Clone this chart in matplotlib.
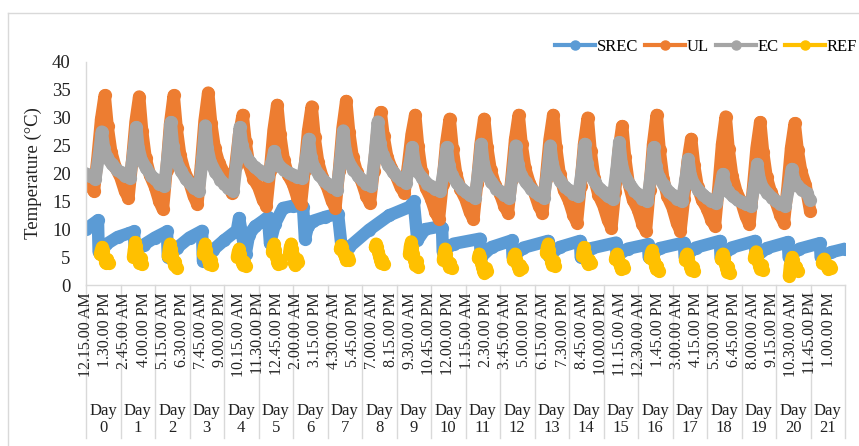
import numpy as np
import matplotlib
matplotlib.use("Agg")
from matplotlib import pyplot as plt
from matplotlib import transforms
from matplotlib.lines import Line2D

plt.rcParams["font.family"] = ["Liberation Serif", "DejaVu Serif"]

# Series colours (Excel office theme)
colours = {"SREC": "#5B9BD5", "UL": "#ED7D31", "EC": "#A5A5A5", "REF": "#FFC000"}

# UL: values per day (day 0 - 20) at these hours of the day
ul_hours = [0, 3, 5.5, 8, 10.5, 13, 15, 17.5, 20.5]
ul_daily = [
    [19.0, 17.8, 16.8, 22.8, 29.7, 34.0, 28.5, 23.9, 21.1],
    [19.3, 16.9, 15.6, 22.0, 29.3, 33.8, 27.7, 22.7, 19.7],
    [17.6, 15.0, 13.6, 20.7, 28.9, 34.0, 28.2, 23.3, 20.4],
    [18.4, 15.9, 14.5, 21.5, 29.5, 34.5, 29.1, 24.6, 21.9],
    [20.1, 17.8, 16.5, 21.4, 27.0, 30.5, 25.6, 21.5, 19.1],
    [17.5, 15.3, 14.2, 20.5, 27.8, 32.3, 27.0, 22.5, 19.8],
    [18.1, 15.7, 14.5, 20.6, 27.6, 32.0, 26.5, 22.0, 19.3],
    [17.4, 15.1, 13.8, 20.5, 28.2, 33.0, 27.5, 22.9, 20.2],
    [18.4, 16.0, 14.7, 20.4, 26.9, 31.0, 26.7, 23.0, 20.9],
    [19.4, 17.5, 16.5, 21.4, 27.0, 30.5, 24.9, 20.2, 17.4],
    [15.5, 13.1, 11.8, 18.1, 25.3, 29.8, 24.4, 19.9, 17.2],
    [15.4, 13.1, 11.8, 18.1, 25.3, 29.8, 24.8, 20.6, 18.0],
    [16.4, 14.2, 13.0, 19.1, 26.1, 30.5, 25.3, 20.9, 18.3],
    [16.5, 14.2, 13.0, 19.1, 26.1, 30.5, 24.7, 19.9, 17.0],
    [15.1, 12.6, 11.2, 17.8, 25.3, 30.0, 24.1, 19.2, 16.2],
    [14.2, 11.7, 10.3, 16.7, 24.0, 28.5, 22.9, 18.2, 15.3],
    [13.5, 11.0, 9.7, 17.0, 25.3, 30.5, 24.3, 19.1, 15.9],
    [13.9, 11.2, 9.7, 15.5, 22.1, 26.2, 21.5, 17.6, 15.3],
    [13.7, 11.7, 10.6, 17.5, 25.3, 30.2, 24.4, 19.6, 16.7],
    [14.8, 12.3, 10.9, 17.3, 24.6, 29.2, 23.8, 19.3, 16.6],
    [14.8, 12.5, 11.2, 17.4, 24.6, 29.0, 24.3, 20.4, 18.0],
]
ul_last = 13.3

# EC: values per day (day 0 - 20) at these hours of the day
ec_hours = [0, 3, 6.5, 9, 11, 12.5, 14.5, 18, 21.5]
ec_daily = [
    [20.0, 19.5, 19.0, 23.3, 27.5, 24.6, 22.9, 21.7, 20.7],
    [20.2, 19.6, 19.2, 23.8, 28.3, 24.6, 22.5, 20.9, 19.6],
    [19.0, 18.2, 17.7, 23.5, 29.2, 24.9, 22.4, 20.5, 19.0],
    [18.3, 17.4, 16.8, 22.7, 28.6, 24.5, 22.1, 20.3, 18.9],
    [18.2, 17.4, 16.8, 22.6, 28.3, 25.2, 23.5, 22.1, 21.1],
    [20.6, 19.9, 19.5, 21.8, 24.0, 22.3, 21.4, 20.6, 20.1],
    [19.8, 19.4, 19.2, 22.7, 26.2, 23.0, 21.2, 19.8, 18.7],
    [18.2, 17.6, 17.1, 22.4, 27.7, 24.2, 22.2, 20.7, 19.5],
    [18.9, 18.2, 17.7, 23.5, 29.3, 25.4, 23.3, 21.6, 20.3],
    [19.6, 18.9, 18.3, 21.5, 24.7, 21.9, 20.4, 19.2, 18.2],
    [17.7, 17.2, 16.8, 20.8, 24.7, 21.5, 19.7, 18.3, 17.2],
    [16.7, 16.1, 15.6, 20.5, 25.3, 21.9, 20.0, 18.5, 17.3],
    [16.8, 16.1, 15.6, 20.3, 25.0, 21.7, 19.8, 18.4, 17.3],
    [16.7, 16.1, 15.6, 20.3, 25.0, 21.8, 20.0, 18.6, 17.5],
    [17.0, 16.4, 15.9, 20.6, 25.3, 21.8, 19.9, 18.4, 17.2],
    [16.6, 15.9, 15.4, 20.5, 25.6, 21.9, 19.8, 18.2, 16.9],
    [16.3, 15.5, 15.0, 19.9, 24.7, 21.3, 19.4, 17.9, 16.7],
    [16.2, 15.5, 15.0, 18.8, 22.6, 19.8, 18.3, 17.1, 16.1],
    [15.6, 15.1, 14.7, 17.3, 19.9, 17.9, 16.8, 15.9, 15.2],
    [14.9, 14.5, 14.2, 18.0, 21.7, 19.1, 17.6, 16.5, 15.6],
    [15.1, 14.6, 14.2, 17.5, 20.8, 18.9, 17.9, 17.1, 16.5],
]
ec_last = 15.2
last_hour = 503.75  # 11.45 PM, day 20

# SREC: hours since start and temperature
srec_t = [0, 4, 8.3, 8.8, 14, 22, 30, 33.4, 34.0, 40, 48, 56.3, 57.0, 63, 72,
          80.7, 81.4, 88, 96, 105, 106.5, 111, 113.4, 117.6, 123.1, 126.6, 128,
          131.5, 137, 144, 151, 152.3, 154.4, 158, 166.3, 175.3, 178, 183, 197,
          211, 225, 228, 230.5, 235.8, 246.3, 247.7, 248.2, 255.7, 274.1, 274.6,
          282.1, 296.3, 296.8, 304.3, 321.4, 321.9, 329.4, 343.7, 344.2, 351.7,
          368.7, 369.2, 376.7, 391.0, 391.5, 399.0, 416.0, 416.5, 424.0, 441.0,
          441.5, 449.0, 465.4, 465.9, 473.4, 488.3, 488.8, 496.3, 510.6, 511.1,
          518.6, 528]
srec_v = [10.0, 10.8, 11.6, 6.0, 7.3, 8.6, 9.3, 9.6, 5.8, 7.2, 8.5, 9.6, 5.0,
          6.6, 8.5, 9.7, 4.3, 6.2, 8.0, 9.8, 12.0, 5.5, 9.0, 10.5, 11.5, 12.2,
          7.5, 11.0, 13.8, 14.2, 14.0, 8.3, 10.5, 11.5, 12.2, 12.8, 6.3, 6.8,
          9.9, 12.5, 14.0, 15.0, 8.0, 10.0, 10.5, 10.3, 6.0, 7.4, 8.3, 5.0, 6.8,
          8.0, 5.0, 6.7, 7.9, 5.2, 6.8, 7.9, 5.0, 6.6, 7.6, 5.2, 6.5, 7.3, 5.0,
          6.6, 7.6, 5.0, 6.7, 7.9, 4.9, 6.7, 7.9, 5.0, 6.6, 7.7, 5.0, 6.5, 7.5,
          5.0, 5.9, 6.5]

# REF: one block of readings a day, every 45 min from the start hour
ref_step = 0.75
ref_start = [9.7, 32.7, 57.0, 81.4, 105.0, 129.4, 141.2, 176.7, 201.0, 224.7,
             248.3, 272.7, 297.0, 320.0, 345.0, 368.0, 392.3, 416.7, 441.7,
             464.7, 489.0, 512.0]
ref_vals = [
    [5.5, 6.3, 6.8, 6.2, 5.0, 4.2, 3.9, 4.6, 4.0],
    [5.0, 6.5, 7.7, 7.0, 5.8, 4.6, 3.9, 4.8, 3.7],
    [5.2, 6.6, 7.4, 6.5, 5.3, 4.3, 3.6, 4.2, 3.1],
    [5.6, 6.8, 7.4, 6.3, 5.2, 4.4, 3.8, 4.5, 3.6],
    [5.0, 6.0, 6.5, 5.6, 4.7, 4.0, 3.6, 4.2, 3.4],
    [6.0, 7.0, 7.4, 6.2, 5.0, 4.2, 3.7, 4.4, 4.0],
    [5.5, 6.8, 7.4, 6.5, 5.4, 4.0, 3.5, 4.6, 4.1],
    [6.5, 7.1, 6.8, 6.0, 5.5, 5.0, 4.4, 5.0, 4.5],
    [6.8, 7.4, 6.9, 6.0, 5.2, 4.5, 3.9, 4.4, 3.7],
    [5.5, 7.0, 7.8, 6.8, 5.5, 4.4, 3.6, 4.3, 3.3],
    [4.5, 5.8, 6.5, 5.5, 4.5, 3.8, 3.2, 3.9, 3.0],
    [4.8, 5.6, 5.0, 4.0, 3.2, 2.6, 2.1, 3.0, 2.5],
    [4.5, 5.3, 5.6, 4.6, 3.8, 3.2, 2.7, 3.5, 3.0],
    [5.8, 6.8, 7.4, 6.2, 5.0, 4.2, 3.6, 4.3, 3.4],
    [5.2, 6.3, 6.8, 5.8, 4.8, 4.2, 3.7, 4.5, 3.9],
    [4.6, 5.3, 5.6, 4.8, 4.0, 3.4, 2.8, 3.6, 3.0],
    [4.8, 5.8, 6.2, 5.3, 4.3, 3.4, 2.8, 3.4, 2.5],
    [4.5, 5.3, 5.6, 4.8, 3.9, 3.2, 2.7, 3.3, 2.5],
    [4.6, 5.4, 5.6, 4.8, 3.8, 3.0, 2.4, 3.3, 2.2],
    [4.8, 5.6, 6.0, 5.0, 4.1, 3.4, 2.9, 3.6, 2.7],
    [1.6, 3.5, 4.4, 5.0, 4.5, 3.6, 2.9, 3.3, 2.6],
    [4.0, 4.5, 4.7, 4.2, 3.6, 3.2, 2.8, 3.4, 3.0],
]

# Category axis labels (every 53rd 15-minute reading)
label_first_hour = 0.25
label_step_hours = 13.25
time_labels = [
    "12.15.00 AM", "1.30.00 PM", "2.45.00 AM", "4.00.00 PM", "5.15.00 AM",
    "6.30.00 PM", "7.45.00 AM", "9.00.00 PM", "10.15.00 AM", "11.30.00 PM",
    "12.45.00 PM", "2.00.00 AM", "3.15.00 PM", "4.30.00 AM", "5.45.00 PM",
    "7.00.00 AM", "8.15.00 PM", "9.30.00 AM", "10.45.00 PM", "12.00.00 PM",
    "1.15.00 AM", "2.30.00 PM", "3.45.00 AM", "5.00.00 PM", "6.15.00 AM",
    "7.30.00 PM", "8.45.00 AM", "10.00.00 PM", "11.15.00 AM", "12.30.00 AM",
    "1.45.00 PM", "3.00.00 AM", "4.15.00 PM", "5.30.00 AM", "6.45.00 PM",
    "8.00.00 AM", "9.15.00 PM", "10.30.00 AM", "11.45.00 PM", "1.00.00 PM",
]
days = list(range(22))


def to_days(hours):
    return np.array(hours, dtype=float) / 24


def daily_series(hours, daily, last):
    t = [d * 24 + h for d, row in enumerate(daily) for h in hours] + [last_hour]
    v = [x for row in daily for x in row] + [last]
    return to_days(t), np.array(v)


ul_x, ul_y = daily_series(ul_hours, ul_daily, ul_last)
ec_x, ec_y = daily_series(ec_hours, ec_daily, ec_last)
srec_x, srec_y = to_days(srec_t), np.array(srec_v)

ref_x, ref_y = [], []
for start, vals in zip(ref_start, ref_vals):
    ref_x += [start + i * ref_step for i in range(len(vals))] + [np.nan]
    ref_y += vals + [np.nan]
ref_x = to_days(ref_x)
ref_y = np.array(ref_y)

fig = plt.figure(figsize=(8.59, 4.46), dpi=100)
ax = fig.add_axes([86 / 859, 161 / 446, 759 / 859, 223 / 446])

style = dict(linewidth=9, marker="o", markersize=8.5, solid_joinstyle="round",
             solid_capstyle="round")
ax.plot(srec_x, srec_y, color=colours["SREC"], **style)
ax.plot(ul_x, ul_y, color=colours["UL"], **style)
ax.plot(ec_x, ec_y, color=colours["EC"], **style)
ax.plot(ref_x, ref_y, color=colours["REF"], **style)

ax.set_xlim(0, 22)
ax.set_ylim(0, 40)
ax.set_yticks(np.arange(0, 41, 5))
ax.set_xticks([])
ax.tick_params(axis="y", length=0, pad=11, labelsize=13.5, labelcolor="#222222")
for side in ["top", "right"]:
    ax.spines[side].set_visible(False)
for side in ["left", "bottom"]:
    ax.spines[side].set_color("#D9D9D9")
    ax.spines[side].set_linewidth(1)

# Two-level category axis drawn below the plot
trans = transforms.blended_transform_factory(ax.transData, ax.transAxes)
for k, lab in enumerate(time_labels):
    t = (label_first_hour + k * label_step_hours) / 24
    ax.text(t, -0.033, lab, rotation=90, ha="center", va="top", fontsize=11.5,
            color="#222222", transform=trans)
for d in range(len(days) + 1):
    ax.plot([d, d], [0, -0.685], color="#D9D9D9", lw=1, transform=trans, clip_on=False)
for d in days:
    ax.text(d + 0.5, -0.603, "Day\n%d" % d, ha="center", va="center", fontsize=12,
            linespacing=1.05, color="#222222", transform=trans)

fig.text(33 / 859, 1 - 173 / 446, "Temperature (°C)", rotation=90, ha="center",
         va="center", fontsize=13.5, color="#222222")

# Chart area border (top and left edges are the only ones inside the picture)
fig.add_artist(Line2D([8 / 859, 1], [1 - 13 / 446] * 2, color="#D9D9D9", lw=1,
                      transform=fig.transFigure))
fig.add_artist(Line2D([8 / 859] * 2, [0, 1 - 13 / 446], color="#D9D9D9", lw=1,
                      transform=fig.transFigure))

handles = [Line2D([], [], color=c, lw=3, marker="o", ms=6.5) for c in colours.values()]
fig.legend(handles, list(colours.keys()), loc="center right",
           bbox_to_anchor=(857 / 859, 1 - 47 / 446), ncol=4, frameon=False,
           fontsize=12, handlelength=2.4, handletextpad=0.1, columnspacing=0.4,
           borderpad=0, borderaxespad=0)

fig.savefig("out.png", dpi=100)
